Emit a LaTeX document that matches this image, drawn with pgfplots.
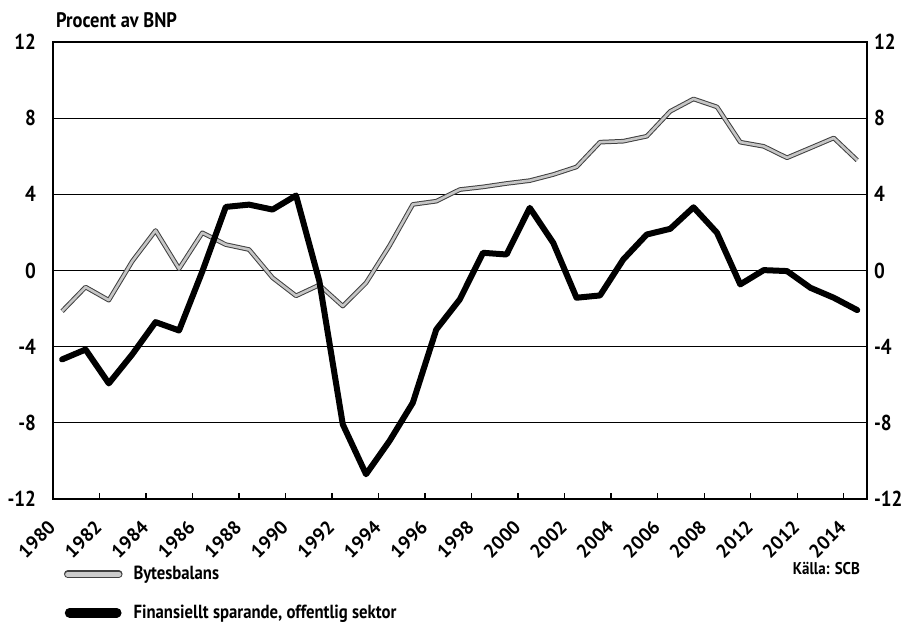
\documentclass[border=0pt]{standalone}
\usepackage{fontspec}
\setmainfont{PT Sans}[FakeStretch=0.88]
\newfontfamily\tickfont{PT Sans}
\usepackage{pgfplots}
\usepackage{pgfplotstable}
\pgfplotsset{compat=1.18}

% Procent av BNP, mitten av varje år
\pgfplotstableread{
x       byt    fin
1980.39 -2.14 -4.67
1981.40 -0.87 -4.15
1982.40 -1.56 -5.93
1983.41  0.49 -4.40
1984.41  2.10 -2.71
1985.42  0.09 -3.15
1986.42  1.98 -0.05
1987.43  1.36  3.34
1988.43  1.10  3.46
1989.44 -0.38  3.20
1990.45 -1.33  3.94
1991.45 -0.76 -0.55
1992.46 -1.87 -8.08
1993.46 -0.65 -10.70
1994.47  1.30 -8.95
1995.47  3.47 -6.95
1996.48  3.64 -3.10
1997.49  4.25 -1.52
1998.49  4.39  0.93
1999.50  4.57  0.84
2000.50  4.72  3.29
2001.51  5.04  1.45
2002.51  5.44 -1.43
2003.52  6.74 -1.31
2004.52  6.79  0.58
2005.53  7.05  1.89
2006.54  8.36  2.19
2007.54  9.01  3.32
2008.55  8.59  1.98
2009.55  6.74 -0.73
2010.56  6.52  0.02
2011.56  5.92 -0.03
2012.57  6.44 -0.91
2013.57  6.96 -1.43
2014.58  5.79 -2.08
}\data

\begin{document}
\begin{tikzpicture}
\path[use as bounding box] (0,0) rectangle (452pt,316pt);
\pgfplotsset{
  base/.style={
    scale only axis, width=407pt, height=228.5pt,
    at={(26.5pt,66.5pt)}, anchor=south west,
    xmin=1980, xmax=2015, ymin=-12, ymax=12,
    ytick={-12,-8,...,12},
    ytick style={draw=none},
    /pgf/number format/assume math mode=true,
    yticklabel style={font=\fontsize{10.8}{12}\selectfont\bfseries},
  }
}
\begin{axis}[base,
  clip mode=individual,
  axis line style={line width=0.8pt},
  ymajorgrids, grid style={black, line width=0.6pt},
  xtick={1980,1982,...,2014},
  xticklabels={1980,1982,1984,1986,1988,1990,1992,1994,1996,1998,2000,2002,2004,2006,2008,2012,2012,2014},
  xtick pos=lower, tick align=inside,
  major tick length=3pt,
  xtick style={black, line width=0.7pt},
  xticklabel style={shift={(-3pt,-9pt)}, rotate=45, anchor=north east, font=\tickfont\fontsize{9.5}{10}\selectfont\bfseries, inner sep=0.5pt},
  yticklabel style={xshift=-5pt},
  legend style={at={(0.013,-0.137)}, anchor=north west, draw=none, fill=none,
    font=\fontsize{9.5}{11}\selectfont\bfseries, row sep=7pt, inner sep=0pt},
  legend cell align=left,
]
\addplot[draw=black!75, line width=0.5pt, double=gray!45, double distance=1.3pt, line join=round,
  legend image code/.code={\draw[black!75, line width=0.6pt, double=gray!40, double distance=2.6pt, line cap=round] (1.5pt,0pt) -- (27pt,0pt);}]
  table[x=x, y=byt] {\data};
\addlegendentry{\hspace{3.5pt}Bytesbalans}
\addplot[black, line width=3pt, line join=round, line cap=round,
  legend image code/.code={\draw[black, line width=4.8pt, line cap=round] (2.4pt,0pt) -- (26pt,0pt);}]
  table[x=x, y=fin] {\data};
\addlegendentry{\hspace{3.5pt}Finansiellt sparande, offentlig sektor}
\node[anchor=west, font=\fontsize{10.5}{12}\selectfont\bfseries, yshift=11pt, xshift=-2pt] at (rel axis cs:0,1) {Procent av BNP};
\node[anchor=east, font=\fontsize{8.5}{10}\selectfont\bfseries, yshift=-34.5pt] at (rel axis cs:1,0) {Källa: SCB};
\end{axis}
\begin{axis}[base,
  hide x axis, axis line style={draw=none},
  yticklabel pos=right,
]
\end{axis}
\end{tikzpicture}
\end{document}
